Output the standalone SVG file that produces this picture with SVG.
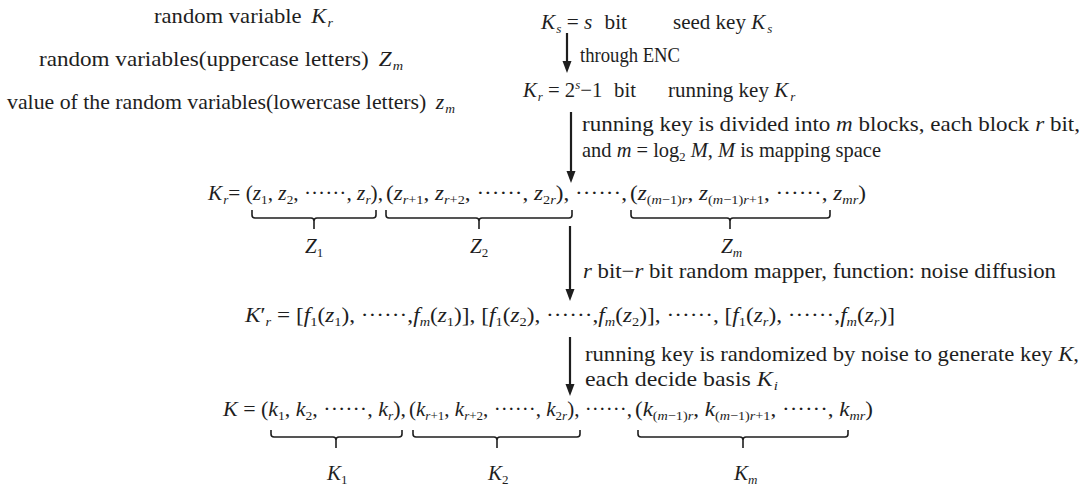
<svg xmlns="http://www.w3.org/2000/svg" width="1086" height="489" viewBox="0 0 1086 489">
<defs>
<style>
text{font-family:"Liberation Serif","DejaVu Serif",serif;font-size:21px;fill:#1e1e1e;}
.i{font-style:italic;}
.s{font-size:13px;}
.br{fill:none;stroke:#1e1e1e;stroke-width:1.6;}
.ar{fill:none;stroke:#1e1e1e;stroke-width:2.2;}
</style>
<marker id="ah" markerUnits="userSpaceOnUse" markerWidth="12" markerHeight="10" refX="8" refY="4.5" orient="auto">
<path d="M0,0 L12,4.5 L0,9 z" fill="#1e1e1e"/>
</marker>
</defs>
<rect width="1086" height="489" fill="#ffffff"/>

<g id="legend">
<text x="154" y="23" textLength="179" lengthAdjust="spacingAndGlyphs">random variable<tspan class="i" dx="9">K</tspan><tspan class="s i" dx="1" dy="4">r</tspan></text>
<text x="39" y="66" textLength="364" lengthAdjust="spacingAndGlyphs">random variables(uppercase letters)<tspan class="i" dx="9">Z</tspan><tspan class="s i" dx="1" dy="4">m</tspan></text>
<text x="7" y="109" textLength="448" lengthAdjust="spacingAndGlyphs">value of the random variables(lowercase letters)<tspan class="i" dx="9">z</tspan><tspan class="s i" dx="1" dy="4">m</tspan></text>
</g>

<g id="seed-key">
<text x="541" y="29" textLength="86" lengthAdjust="spacingAndGlyphs"><tspan class="i">K</tspan><tspan class="s i" dx="1" dy="4">s</tspan><tspan dy="-4"> = </tspan><tspan class="i">s</tspan><tspan dx="12">bit</tspan></text>
<text x="673" y="29">seed key <tspan class="i">K</tspan><tspan class="s i" dx="2" dy="4">s</tspan></text>
</g>

<g id="running-key">
<text x="523" y="97" textLength="113" lengthAdjust="spacingAndGlyphs"><tspan class="i">K</tspan><tspan class="s i" dx="1" dy="4">r</tspan><tspan dy="-4"> = 2</tspan><tspan class="s i" dy="-8">s</tspan><tspan dy="8">−1</tspan><tspan dx="12">bit</tspan></text>
<text x="668" y="97">running key <tspan class="i">K</tspan><tspan class="s i" dx="2" dy="4">r</tspan></text>
</g>

<g id="kr-blocks">
<text x="208" y="200" textLength="175" lengthAdjust="spacingAndGlyphs"><tspan class="i">K</tspan><tspan class="s i" dx="1" dy="4">r</tspan><tspan dy="-4">= (</tspan><tspan class="i">z</tspan><tspan class="s" dy="4">1</tspan><tspan dy="-4">, </tspan><tspan class="i">z</tspan><tspan class="s" dy="4">2</tspan><tspan dy="-4">, ······, </tspan><tspan class="i">z</tspan><tspan class="s i" dy="4">r</tspan><tspan dy="-4">),</tspan></text>
<text x="386" y="200" textLength="241" lengthAdjust="spacingAndGlyphs">(<tspan class="i">z</tspan><tspan class="s" dy="4"><tspan class="i">r</tspan>+1</tspan><tspan dy="-4">, </tspan><tspan class="i">z</tspan><tspan class="s" dy="4"><tspan class="i">r</tspan>+2</tspan><tspan dy="-4">, ······, </tspan><tspan class="i">z</tspan><tspan class="s" dy="4">2<tspan class="i">r</tspan></tspan><tspan dy="-4">), ······,</tspan></text>
<text x="630" y="200" textLength="236" lengthAdjust="spacingAndGlyphs">(<tspan class="i">z</tspan><tspan class="s" dy="4">(<tspan class="i">m</tspan>−1)<tspan class="i">r</tspan></tspan><tspan dy="-4">, </tspan><tspan class="i">z</tspan><tspan class="s" dy="4">(<tspan class="i">m</tspan>−1)<tspan class="i">r</tspan>+1</tspan><tspan dy="-4">, ······, </tspan><tspan class="i">z</tspan><tspan class="s i" dy="4">mr</tspan><tspan dy="-4">)</tspan></text>
</g>

<g id="Z1"><path class="br" d="M252,210 V215 Q252,218 255,218 H311 Q314,218 314,221 V229 M314,221 Q314,218 317,218 H373 Q376,218 376,215 V210"/><text x="305" y="253"><tspan class="i">Z</tspan><tspan class="s" dy="4">1</tspan></text></g>
<g id="Z2"><path class="br" d="M386,210 V215 Q386,218 389,218 H476 Q479,218 479,221 V229 M479,221 Q479,218 482,218 H569 Q572,218 572,215 V210"/><text x="470" y="253"><tspan class="i">Z</tspan><tspan class="s" dy="4">2</tspan></text></g>
<g id="Zm"><path class="br" d="M631,210 V215 Q631,218 634,218 H727 Q730,218 730,221 V229 M730,221 Q730,218 733,218 H827 Q830,218 830,215 V210"/><text x="721" y="253"><tspan class="i">Z</tspan><tspan class="s i" dy="4">m</tspan></text></g>

<g id="mapper-output">
<text x="245" y="322" textLength="650" lengthAdjust="spacingAndGlyphs"><tspan class="i">K</tspan><tspan>′</tspan><tspan class="s i" dy="4">r</tspan><tspan dy="-4"> = [</tspan><tspan class="i">f</tspan><tspan class="s" dy="4">1</tspan><tspan dy="-4">(</tspan><tspan class="i">z</tspan><tspan class="s" dy="4">1</tspan><tspan dy="-4">), ······,</tspan><tspan class="i">f</tspan><tspan class="s i" dy="4">m</tspan><tspan dy="-4">(</tspan><tspan class="i">z</tspan><tspan class="s" dy="4">1</tspan><tspan dy="-4">)], [</tspan><tspan class="i">f</tspan><tspan class="s" dy="4">1</tspan><tspan dy="-4">(</tspan><tspan class="i">z</tspan><tspan class="s" dy="4">2</tspan><tspan dy="-4">), ······,</tspan><tspan class="i">f</tspan><tspan class="s i" dy="4">m</tspan><tspan dy="-4">(</tspan><tspan class="i">z</tspan><tspan class="s" dy="4">2</tspan><tspan dy="-4">)], ······, [</tspan><tspan class="i">f</tspan><tspan class="s" dy="4">1</tspan><tspan dy="-4">(</tspan><tspan class="i">z</tspan><tspan class="s i" dy="4">r</tspan><tspan dy="-4">), ······,</tspan><tspan class="i">f</tspan><tspan class="s i" dy="4">m</tspan><tspan dy="-4">(</tspan><tspan class="i">z</tspan><tspan class="s i" dy="4">r</tspan><tspan dy="-4">)]</tspan></text>
</g>

<g id="k-blocks">
<text x="223" y="416" textLength="183" lengthAdjust="spacingAndGlyphs"><tspan class="i">K</tspan> = (<tspan class="i">k</tspan><tspan class="s" dy="4">1</tspan><tspan dy="-4">,  </tspan><tspan class="i">k</tspan><tspan class="s" dy="4">2</tspan><tspan dy="-4">, ······, </tspan><tspan class="i">k</tspan><tspan class="s i" dy="4">r</tspan><tspan dy="-4">),</tspan></text>
<text x="409" y="416" textLength="223" lengthAdjust="spacingAndGlyphs">(<tspan class="i">k</tspan><tspan class="s" dy="4"><tspan class="i">r</tspan>+1</tspan><tspan dy="-4">, </tspan><tspan class="i">k</tspan><tspan class="s" dy="4"><tspan class="i">r</tspan>+2</tspan><tspan dy="-4">, ······, </tspan><tspan class="i">k</tspan><tspan class="s" dy="4">2<tspan class="i">r</tspan></tspan><tspan dy="-4">), ······,</tspan></text>
<text x="635" y="416" textLength="238" lengthAdjust="spacingAndGlyphs">(<tspan class="i">k</tspan><tspan class="s" dy="4">(<tspan class="i">m</tspan>−1)<tspan class="i">r</tspan></tspan><tspan dy="-4">, </tspan><tspan class="i">k</tspan><tspan class="s" dy="4">(<tspan class="i">m</tspan>−1)<tspan class="i">r</tspan>+1</tspan><tspan dy="-4">, ······, </tspan><tspan class="i">k</tspan><tspan class="s i" dy="4">mr</tspan><tspan dy="-4">)</tspan></text>
</g>

<g id="K1"><path class="br" d="M271,430 V434 Q271,437 274,437 H333 Q336,437 336,440 V448 M336,440 Q336,437 339,437 H399 Q402,437 402,434 V430"/><text x="327" y="480"><tspan class="i">K</tspan><tspan class="s" dy="4">1</tspan></text></g>
<g id="K2"><path class="br" d="M413,430 V434 Q413,437 416,437 H494 Q497,437 497,440 V448 M497,440 Q497,437 500,437 H577 Q580,437 580,434 V430"/><text x="488" y="480"><tspan class="i">K</tspan><tspan class="s" dy="4">2</tspan></text></g>
<g id="Km"><path class="br" d="M638,430 V434 Q638,437 641,437 H740 Q743,437 743,440 V448 M743,440 Q743,437 746,437 H845 Q848,437 848,434 V430"/><text x="734" y="480"><tspan class="i">K</tspan><tspan class="s i" dy="4">m</tspan></text></g>

<g id="connectors">
<line class="ar" x1="567" y1="33" x2="567" y2="69" marker-end="url(#ah)"/>
<line class="ar" x1="571" y1="112" x2="571" y2="179" marker-end="url(#ah)"/>
<line class="ar" x1="570" y1="226" x2="570" y2="297" marker-end="url(#ah)"/>
<line class="ar" x1="570" y1="337" x2="570" y2="392" marker-end="url(#ah)"/>
</g>

<g id="connector-labels">
<text x="580" y="62" textLength="100" lengthAdjust="spacingAndGlyphs">through ENC</text>
<text x="582" y="131" textLength="498" lengthAdjust="spacingAndGlyphs">running key is divided into <tspan class="i">m</tspan> blocks, each block <tspan class="i">r</tspan> bit,</text>
<text x="582" y="157" textLength="299" lengthAdjust="spacingAndGlyphs">and <tspan class="i">m</tspan> = log<tspan class="s" dy="4">2</tspan><tspan dy="-4"> </tspan><tspan class="i">M</tspan>, <tspan class="i">M</tspan> is mapping space</text>
<text x="583" y="278" textLength="473" lengthAdjust="spacingAndGlyphs"><tspan class="i">r</tspan> bit−<tspan class="i">r</tspan> bit random mapper, function: noise diffusion</text>
<text x="585" y="361" textLength="494" lengthAdjust="spacingAndGlyphs">running key is randomized by noise to generate key <tspan class="i">K</tspan>,</text>
<text x="585" y="386" textLength="193" lengthAdjust="spacingAndGlyphs">each decide basis <tspan class="i">K</tspan><tspan class="s i" dx="1" dy="4">i</tspan></text>
</g>
</svg>
